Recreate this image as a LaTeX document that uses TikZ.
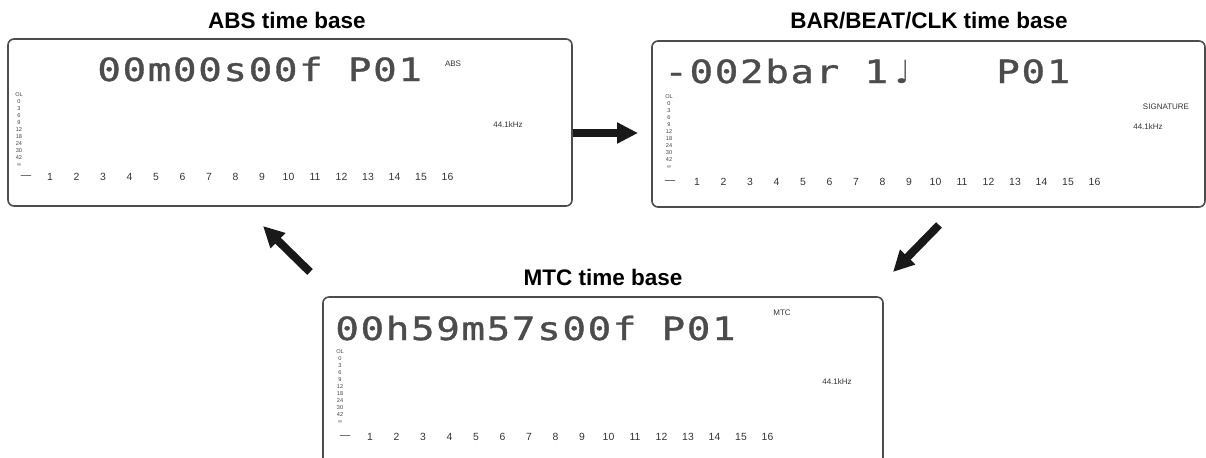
\documentclass[tikz,border=0pt]{standalone}
\usepackage{fontspec}
\setmainfont{Liberation Sans}
\newfontfamily\lcdfont[FakeStretch=1.22,FakeBold=1.2,LetterSpace=5.4]{DejaVu Sans Mono}
\newfontfamily\notefont{DejaVu Sans}
\usetikzlibrary{arrows.meta}

\tikzset{
  lcd/.style={draw=black!70, line width=0.8pt, rounded corners=3pt, rectangle, inner sep=0pt},
  title/.style={font=\bfseries\fontsize{11.25}{13}\selectfont, anchor=base, inner sep=0pt},
  readout/.style={font=\lcdfont\fontsize{16}{18}\selectfont, anchor=base west, inner sep=0pt, text=black!70},
  tag/.style={font=\fontsize{4}{5}\selectfont, text=black!80, inner sep=0pt},
  meter/.style={font=\fontsize{2.8}{3}\selectfont, text=black!75, inner sep=0pt},
  chan/.style={font=\fontsize{5.2}{6}\selectfont, text=black!80, inner sep=0pt},
  bigarrow/.style={line width=4pt, black!90, -{Triangle[length=10.5pt,width=10pt]}},
}

% level meter scale and channel numbers of one display
\newcommand{\meterscale}[6]{%
  \foreach \lv [count=\i from 0] in {OL,0,3,6,9,12,18,24,30,42,∞}
    \node[meter] (#1lv\i) at (#2,#3+7*\i) {\lv};
  \node[chan] (#1dash) at (#4,#5) {—};
  \foreach \ch in {1,...,16}
    \node[chan] (#1ch\ch) at (#6+26.5*\ch-26.5,#5) {\ch};
}

\begin{document}
\begin{tikzpicture}[x=0.5pt,y=-0.5pt]
\useasboundingbox (0,0) rectangle (1206,457);
\clip (0,0) rectangle (1206,457);

% ABS display
\node[title] (abstitle) at (287,28) {ABS time base};
\node[lcd, minimum width=282pt, minimum height=83.5pt] (abs) at (290,122.5) {};
\node[readout] (absread) at (97,81) {00m00s00f P01};
\node[tag] (abstag) at (453,64) {ABS};
\node[tag] (absrate) at (508,125) {44.1kHz};
\meterscale{abs}{19}{95}{26}{177}{50}

% BAR/BEAT/CLK display
\node[title] (bartitle) at (929,28) {BAR/BEAT/CLK time base};
\node[lcd, minimum width=276.5pt, minimum height=83pt] (bar) at (928.5,124) {};
\node[readout] (barread) at (664,83) {-002bar 1};
\node[readout, font=\notefont\fontsize{16}{18}\selectfont] (barnote) at (895,83) {♩};
\node[readout] (barprog) at (996,83) {P01};
\node[tag] (bartag) at (1166,107) {SIGNATURE};
\node[tag] (barrate) at (1148,127) {44.1kHz};
\meterscale{bar}{669}{97}{670}{182}{697}

% MTC display
\node[title] (mtctitle) at (603,285) {MTC time base};
\node[lcd, minimum width=280pt, minimum height=83.5pt] (mtc) at (603,380.5) {};
\node[readout] (mtcread) at (335,340) {00h59m57s00f P01};
\node[tag] (mtctag) at (782,313) {MTC};
\node[tag] (mtcrate) at (837,382) {44.1kHz};
\meterscale{mtc}{340}{352}{345}{437}{370}

% arrows
\coordinate (toBarS) at (573,133);
\coordinate (toBarE) at (638,133);
\coordinate (toMtcS) at (939,225);
\coordinate (toMtcE) at (893,272);
\coordinate (toAbsS) at (310,272);
\coordinate (toAbsE) at (263,226);
\draw[bigarrow] (toBarS) -- (toBarE);
\draw[bigarrow] (toMtcS) -- (toMtcE);
\draw[bigarrow] (toAbsS) -- (toAbsE);
\end{tikzpicture}
\end{document}
